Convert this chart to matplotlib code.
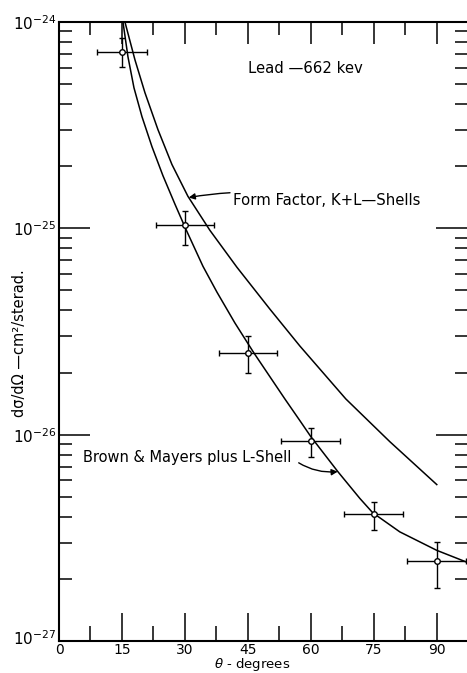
import matplotlib
matplotlib.use("Agg")
import matplotlib.pyplot as plt
from matplotlib.ticker import FixedLocator, NullFormatter, LogLocator
from matplotlib.transforms import offset_copy

# ---- data ----
theta_pts = [15, 30, 45, 60, 75, 90]
sigma_pts = [7.16e-25, 1.035e-25, 2.49e-26, 9.35e-27, 4.11e-27, 2.43e-27]
sigma_hi = [8.37e-25, 1.21e-25, 3.00e-26, 1.08e-26, 4.74e-27, 3.01e-27]
sigma_lo = [6.06e-25, 8.28e-26, 2.00e-26, 7.83e-27, 3.47e-27, 1.80e-27]
theta_err = [6, 7, 7, 7, 7, 7]

# Form Factor, K+L-Shells
ff_theta = [15.71, 18.10, 20.48, 23.57, 26.90, 30.71, 35.95, 42.38, 50.24,
            57.38, 68.33, 78.81, 90.0]
ff_sigma = [1.00e-24, 6.55e-25, 4.54e-25, 3.01e-25, 2.04e-25, 1.43e-25,
            9.78e-26, 6.48e-26, 4.06e-26, 2.69e-26, 1.49e-26, 9.25e-27,
            5.73e-27]

# Brown & Mayers plus L-Shell
bm_theta = [15.24, 16.43, 17.86, 19.76, 22.14, 24.76, 27.62, 30.24, 34.29,
            37.62, 41.90, 46.43, 53.81, 57.38, 60.0, 66.43, 71.67, 74.76,
            81.19, 90.0, 97.14]
bm_sigma = [1.00e-24, 6.78e-25, 4.80e-25, 3.48e-25, 2.49e-25, 1.80e-25,
            1.31e-25, 9.89e-26, 6.55e-26, 4.91e-26, 3.48e-26, 2.49e-26,
            1.49e-26, 1.17e-26, 9.78e-27, 6.62e-27, 4.91e-27, 4.18e-27,
            3.38e-27, 2.75e-27, 2.41e-27]

x_major = [0, 15, 30, 45, 60, 75, 90]
x_minor = [7.5, 22.5, 37.5, 52.5, 67.5, 82.5]
y_major = [1e-27, 1e-26, 1e-25, 1e-24]
y_major_labels = [r"$10^{-27}$", r"$10^{-26}$", r"$10^{-25}$", r"$10^{-24}$"]

plt.rcParams['font.family'] = ['DejaVu Sans']

fig = plt.figure(figsize=(4.67, 6.73), dpi=100)
ax = fig.add_axes([59/467, 32/673, 1 - 59/467, (641-22)/673])
ax.set_yscale('log')
ax.set_xlim(0, 97.2)
ax.set_ylim(1e-27, 1e-24)

ax.plot(ff_theta, ff_sigma, color='black', lw=1.1)
ax.plot(bm_theta, bm_sigma, color='black', lw=1.1)

yerr = [[s - l for s, l in zip(sigma_pts, sigma_lo)],
        [h - s for s, h in zip(sigma_pts, sigma_hi)]]
ax.errorbar(theta_pts, sigma_pts, xerr=theta_err, yerr=yerr, fmt='o',
            color='black', ecolor='black', elinewidth=1.0, capsize=2.5,
            capthick=1.0, markersize=4, markerfacecolor='white',
            markeredgewidth=1.0, zorder=5, clip_on=True)

# spines
for s in ['left', 'bottom', 'top']:
    ax.spines[s].set_linewidth(1.5)
ax.spines['right'].set_visible(False)

# bottom / left ticks
ax.xaxis.set_major_locator(FixedLocator(x_major))
ax.xaxis.set_minor_locator(FixedLocator(x_minor))
ax.set_xticklabels([str(v) for v in x_major])
ax.yaxis.set_major_locator(FixedLocator(y_major))
ax.set_yticklabels(y_major_labels)
ax.yaxis.set_minor_locator(LogLocator(base=10, subs=range(2, 10)))
ax.yaxis.set_minor_formatter(NullFormatter())
ax.tick_params(axis='x', which='major', direction='in', length=20, width=1.1,
               labelsize=10, pad=1.5, top=False)
ax.tick_params(axis='x', which='minor', direction='in', length=11, width=1.1, top=False)
ax.tick_params(axis='y', which='major', direction='in', length=22, width=1.1,
               labelsize=11, pad=2, right=False)
ax.tick_params(axis='y', which='minor', direction='in', length=9, width=1.1, right=False)

# nudge the bottom-most y label up so it clears the "0"
fig.canvas.draw()
lbl27 = ax.get_yticklabels()[0]
lbl27.set_transform(offset_copy(lbl27.get_transform(), fig=fig, x=0, y=4, units='dots'))

# top ticks
axt = ax.twiny()
axt.set_xlim(ax.get_xlim())
axt.xaxis.set_major_locator(FixedLocator(x_major[1:]))
axt.xaxis.set_minor_locator(FixedLocator(x_minor))
axt.tick_params(axis='x', which='major', direction='in', length=16, width=1.1,
                labeltop=False, top=True, bottom=False)
axt.tick_params(axis='x', which='minor', direction='in', length=9, width=1.1,
                top=True, bottom=False)
for s in axt.spines.values():
    s.set_visible(False)

# right ticks
axr = ax.twinx()
axr.set_yscale('log')
axr.set_ylim(ax.get_ylim())
axr.yaxis.set_major_locator(FixedLocator(y_major))
axr.yaxis.set_minor_locator(LogLocator(base=10, subs=range(2, 10)))
axr.yaxis.set_major_formatter(NullFormatter())
axr.yaxis.set_minor_formatter(NullFormatter())
axr.tick_params(axis='y', which='major', direction='in', length=22, width=1.1,
                labelright=False)
axr.tick_params(axis='y', which='minor', direction='in', length=9, width=1.1)
for s in axr.spines.values():
    s.set_visible(False)

# labels
fig.text(252/467, 1 - 664.5/673, r"$\theta$" + " - degrees", ha='center', va='center',
         fontsize=9.5)
fig.text(20/467, 1 - 343/673, "dσ/dΩ —cm²/sterad.", rotation=90,
         ha='center', va='center', fontsize=10.5)

ax.text(45.0, 5.93e-25, "Lead —662 kev", fontsize=10.7, ha='left', va='center')
ax.annotate("Form Factor, K+L—Shells", xy=(30.9, 1.41e-25),
            xytext=(41.4, 1.36e-25), fontsize=10.7, ha='left', va='center',
            arrowprops=dict(arrowstyle='-|>', color='black', lw=1.0,
                            shrinkA=0, shrinkB=0, mutation_scale=9,
                            connectionstyle='arc3,rad=0.1'))
ax.annotate("Brown & Mayers plus L-Shell", xy=(66.4, 6.62e-27),
            xytext=(5.7, 7.74e-27), fontsize=10.5, ha='left', va='center',
            arrowprops=dict(arrowstyle='-|>', color='black', lw=1.0,
                            shrinkA=4, shrinkB=0, mutation_scale=9,
                            relpos=(1.0, 0.5),
                            connectionstyle='arc3,rad=0.2'))

fig.savefig("out.png", dpi=100)
